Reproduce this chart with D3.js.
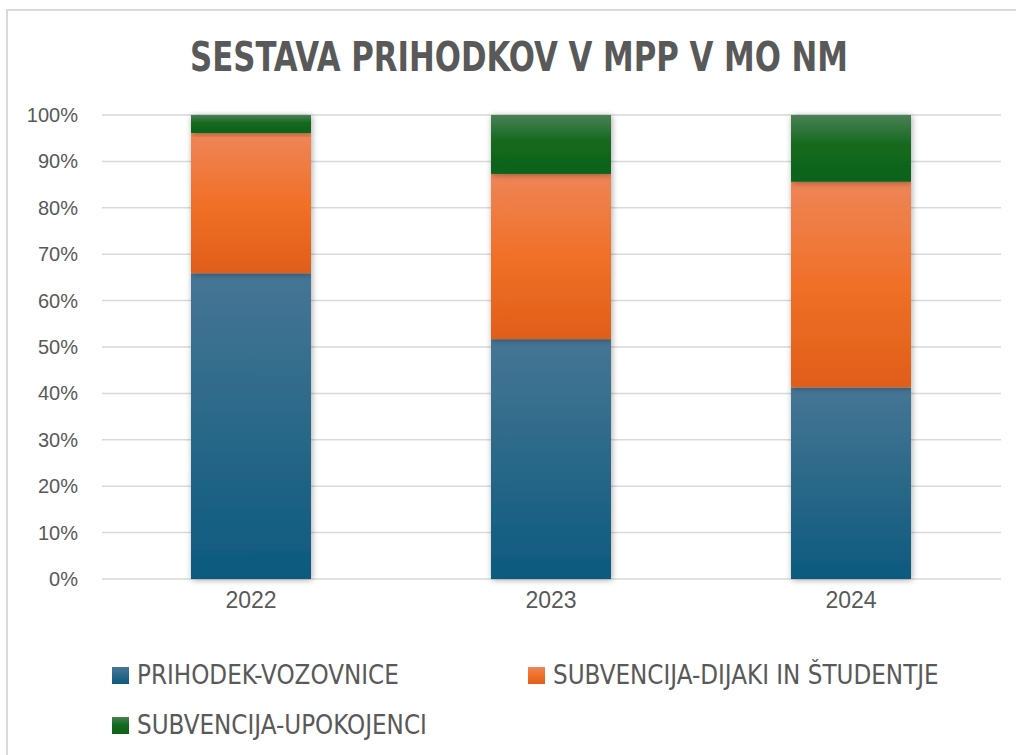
<!DOCTYPE html>
<html>
<head>
<meta charset="utf-8">
<script src="https://cdn.jsdelivr.net/npm/d3@7"></script>
<style>
  body { margin: 0; background: #fff; }
  text { font-family: "Liberation Sans", Arial, sans-serif; fill: #595959; }
</style>
</head>
<body>
<div class="vis"></div>
<script>
  const years = ['2022', '2023', '2024']
  const seriesNames = ['PRIHODEK-VOZOVNICE', 'SUBVENCIJA-DIJAKI IN ŠTUDENTJE', 'SUBVENCIJA-UPOKOJENCI']
  const vozovnice = [65.9, 51.7, 41.3]
  const dijaki = [30.2, 35.6, 44.3]
  const upokojenci = [3.9, 12.7, 14.4]
  const yTicks = [0, 10, 20, 30, 40, 50, 60, 70, 80, 90, 100]

  const width = 1016
  const height = 755
  const margin = { top: 115, right: 15, bottom: 176, left: 101 }

  const svg = d3.select('.vis').append('svg')
    .attr('width', width).attr('height', height)

  // chart frame
  svg.append('rect')
    .attr('x', 7).attr('y', 10).attr('width', width + 20).attr('height', height + 20)
    .attr('fill', '#fff').attr('stroke', '#d9d9d9').attr('stroke-width', 2)

  const defs = svg.append('defs')
  const grads = [
    ['g0', [['0%', '#477595'], ['50%', '#2a6888'], ['100%', '#0c5a7f']]],
    ['g1', [['0%', '#ee8558'], ['50%', '#f07028'], ['100%', '#e05e19']]],
    ['g2', [['0%', '#4b8055'], ['45%', '#13691f'], ['100%', '#0f621a']]],
  ]
  grads.forEach(([id, stops]) => {
    const g = defs.append('linearGradient').attr('id', id)
      .attr('x1', 0).attr('y1', 0).attr('x2', 0).attr('y2', 1)
    stops.forEach(s => g.append('stop').attr('offset', s[0]).attr('stop-color', s[1]))
  })
  defs.append('filter').attr('id', 'shadow')
    .attr('x', '-20%').attr('y', '-20%').attr('width', '140%').attr('height', '140%')
    .append('feDropShadow')
    .attr('dx', 1).attr('dy', 1).attr('stdDeviation', 3)
    .attr('flood-color', '#000').attr('flood-opacity', 0.35)

  const x = d3.scaleBand()
    .domain(years)
    .range([margin.left, width - margin.right])
    .paddingInner(0.6)
    .paddingOuter(0.3)

  const y = d3.scaleLinear()
    .domain([0, 100])
    .range([height - margin.bottom, margin.top])

  // gridlines
  svg.append('g')
    .selectAll('line')
    .data(yTicks)
    .join('line')
      .attr('x1', margin.left + 1).attr('x2', width - margin.right)
      .attr('y1', d => y(d)).attr('y2', d => y(d))
      .attr('stroke', '#d9d9d9').attr('stroke-width', 1.5)

  // y axis labels
  svg.append('g')
    .attr('transform', `translate(${margin.left},0)`)
    .call(d3.axisLeft(y).tickValues(yTicks).tickFormat(d => d + '%').tickSize(0).tickPadding(23))
    .call(g => g.select('.domain').remove())
    .call(g => g.selectAll('text').style('font-size', '20px').attr('fill', '#595959'))

  // x axis labels
  svg.append('g')
    .attr('transform', `translate(0,${height - margin.bottom})`)
    .call(d3.axisBottom(x).tickSize(0).tickPadding(13))
    .call(g => g.select('.domain').remove())
    .call(g => g.selectAll('text').style('font-size', '23px').attr('fill', '#595959'))

  const table = years.map((yr, i) => ({ year: yr, s0: vozovnice[i], s1: dijaki[i], s2: upokojenci[i] }))
  const stacked = d3.stack().keys(['s0', 's1', 's2'])(table)

  svg.append('g')
    .selectAll('g')
    .data(stacked)
    .join('g')
      .attr('fill', (d, i) => `url(#g${i})`)
    .selectAll('rect')
    .data(d => d)
    .join('rect')
      .attr('x', d => x(d.data.year))
      .attr('width', x.bandwidth())
      .attr('y', d => y(d[1]))
      .attr('height', d => y(d[0]) - y(d[1]))
      .attr('filter', 'url(#shadow)')

  // title
  svg.append('text')
    .attr('x', 519).attr('y', 71)
    .attr('text-anchor', 'middle')
    .attr('textLength', 658).attr('lengthAdjust', 'spacingAndGlyphs')
    .style('font-family', '"Liberation Sans Narrow", "DejaVu Sans Condensed", sans-serif')
    .style('font-weight', 'bold')
    .style('font-size', '41px')
    .text('SESTAVA PRIHODKOV V MPP V MO NM')

  // legend
  const legendPos = [[112, 667], [528, 667], [112, 717]]
  const legend = svg.append('g')
    .selectAll('g')
    .data(seriesNames)
    .join('g')
      .attr('transform', (d, i) => `translate(${legendPos[i][0]},${legendPos[i][1]})`)
  legend.append('rect')
    .attr('width', 17).attr('height', 17)
    .attr('fill', (d, i) => `url(#g${i})`)
  legend.append('text')
    .attr('x', 25).attr('y', 16.5)
    .style('font-family', '"Liberation Sans Narrow", "DejaVu Sans Condensed", sans-serif')
    .style('font-size', '25.7px')
    .text(d => d)
</script>
</body>
</html>
